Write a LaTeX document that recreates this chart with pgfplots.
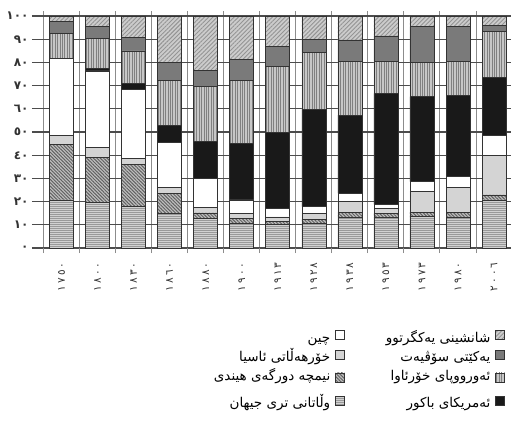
\documentclass[border=0pt]{standalone}
\usepackage{fontspec}
\usepackage{pgfplots}
\pgfplotsset{compat=1.18}
\usepackage{pgfplotstable}
\usetikzlibrary{patterns.meta}
\TeXXeTstate=1
\newfontfamily\arabicfont[Script=Arabic]{DejaVu Sans}
\newfontfamily\digfont[LetterSpace=20]{DejaVu Sans}
\newfontfamily\numfont{DejaVu Sans}

\pgfplotstableread{
idx rest india ea china na we ussr uk
0 20.7 24.0 4.0 33.1 0.0 10.7 5.3 2.2
1 19.7 19.4 4.1 33.1 1.1 13.0 5.0 4.6
2 17.8 18.1 2.8 29.7 2.6 14.0 5.8 9.2
3 15.0 8.6 2.6 19.4 7.4 19.4 7.6 20.0
4 12.8 2.3 2.4 12.5 15.8 24.0 6.9 23.3
5 10.6 2.2 2.2 5.7 24.4 27.3 8.9 18.7
6 10.2 1.2 2.0 3.7 32.6 28.7 8.4 13.2
7 10.6 1.9 2.5 2.8 42.0 24.4 5.8 10.0
8 13.2 2.0 5.0 3.3 33.8 23.0 9.4 10.3
9 13.3 1.7 2.0 1.8 47.9 13.9 10.8 8.6
10 13.5 2.0 9.0 4.1 36.6 14.7 15.5 4.6
11 13.4 2.1 10.5 4.7 35.2 14.4 15.1 4.6
12 20.7 2.2 17.1 8.7 24.9 19.6 2.8 4.0
}\data

\pgfplotsset{
  bd/.style={draw=black!80, line width=0.6pt},
  sRest/.style={bd, fill=black!40, postaction={pattern={Lines[angle=0,distance=2pt,line width=0.7pt]}, pattern color=black!18}},
  sIndia/.style={bd, fill=black!25, postaction={pattern={Lines[angle=-45,distance=2.4pt,line width=1pt]}, pattern color=black!62}},
  sEA/.style={bd, fill=black!17},
  sChina/.style={bd, fill=white},
  sNA/.style={bd, fill=black!90},
  sWE/.style={bd, fill=black!22, postaction={pattern={Lines[angle=90,distance=2.4pt,line width=0.8pt]}, pattern color=black!50}},
  sUSSR/.style={bd, fill=black!52},
  sUK/.style={bd, fill=black!20, postaction={pattern={Lines[angle=45,distance=3pt,line width=0.9pt]}, pattern color=black!42}},
  legbox/.style={legend image code/.code={\draw[##1] (0pt,-0.5pt) rectangle (9pt,8.5pt);}},
}

\begin{document}
\begin{tikzpicture}
\useasboundingbox (-38pt,-173pt) rectangle (473pt,248pt);
\begin{axis}[
  at={(0pt,0pt)}, anchor=south west,
  scale only axis, width=473pt, height=232pt,
  xmin=-0.652, xmax=12.47, ymin=0, ymax=100,
  ybar stacked, bar width=24pt,
  axis line style={draw=none},
  tick align=outside,
  major tick length=6pt,
  minor tick length=5pt,
  xtick={0,...,12},
  xticklabels={١٧٥٠,١٨٠٠,١٨٣٠,١٨٦٠,١٨٨٠,١٩٠٠,١٩١٣,١٩٢٨,١٩٣٨,١٩٥٣,١٩٧٣,١٩٨٠,٢٠٠٦},
  minor xtick={-0.5,0.5,...,12.5},
  xminorgrids=true,
  minor x grid style={black!45, line width=1pt},
  major x tick style={draw=none},
  minor x tick style={black!45, line width=1pt},
  ytick={0,10,...,90},
  yticklabels={٠,١٠,٢٠,٣٠,٤٠,٥٠,٦٠,٧٠,٨٠,٩٠},
  extra y ticks={100},
  extra y tick labels={١٠٠},
  extra y tick style={grid style={black!35, line width=0.6pt}},
  ymajorgrids=true,
  major y grid style={black!70, line width=1.2pt},
  major y tick style={black!70, line width=1.2pt},
  yticklabel style={font=\numfont\bfseries\fontsize{12}{14}\selectfont, text=black!80},
  xticklabel style={rotate=90, anchor=east, font=\digfont\fontsize{10.5}{12}\selectfont, text=black!80},
  xticklabel shift=5pt,
  legend plot pos=right,
  legend columns=2,
  legend cell align=right,
  legend style={at={(0.994,-0.345)}, anchor=north east, draw=none, fill=none,
    font=\arabicfont\fontsize{13.5}{15}\selectfont, row sep=3pt,
    nodes={text height=10pt, text depth=4pt, inner sep=1pt},
    /tikz/every odd column/.append style={column sep=4pt},
    /tikz/every even column/.append style={column sep=40pt},
    /tikz/row 3/.style={nodes={text depth=11pt}}},
]
\addplot[sRest, forget plot] table[x=idx,y=rest]{\data};
\addplot[sIndia, forget plot] table[x=idx,y=india]{\data};
\addplot[sEA, forget plot] table[x=idx,y=ea]{\data};
\addplot[sChina, forget plot] table[x=idx,y=china]{\data};
\addplot[sNA, forget plot] table[x=idx,y=na]{\data};
\addplot[sWE, forget plot] table[x=idx,y=we]{\data};
\addplot[sUSSR, forget plot] table[x=idx,y=ussr]{\data};
\addplot[sUK, forget plot] table[x=idx,y=uk]{\data};

\addlegendimage{sChina, legbox}
\addlegendentry{\beginR چین\endR}
\addlegendimage{sUK, legbox}
\addlegendentry{\beginR شانشینی یەکگرتوو\endR}
\addlegendimage{sEA, legbox}
\addlegendentry{\beginR خۆرهەڵاتی ئاسیا\endR}
\addlegendimage{sUSSR, legbox}
\addlegendentry{\beginR یەکێتی سۆڤیەت\endR}
\addlegendimage{sIndia, legbox}
\addlegendentry{\beginR نیمچە دورگەی هیندی\endR}
\addlegendimage{sWE, legbox}
\addlegendentry{\beginR ئەورووپای خۆرئاوا\endR}
\addlegendimage{sRest, legbox}
\addlegendentry{\beginR وڵاتانی تری جیهان\endR}
\addlegendimage{sNA, legbox}
\addlegendentry{\beginR ئەمریکای باکور\endR}
\end{axis}
\end{tikzpicture}
\end{document}
